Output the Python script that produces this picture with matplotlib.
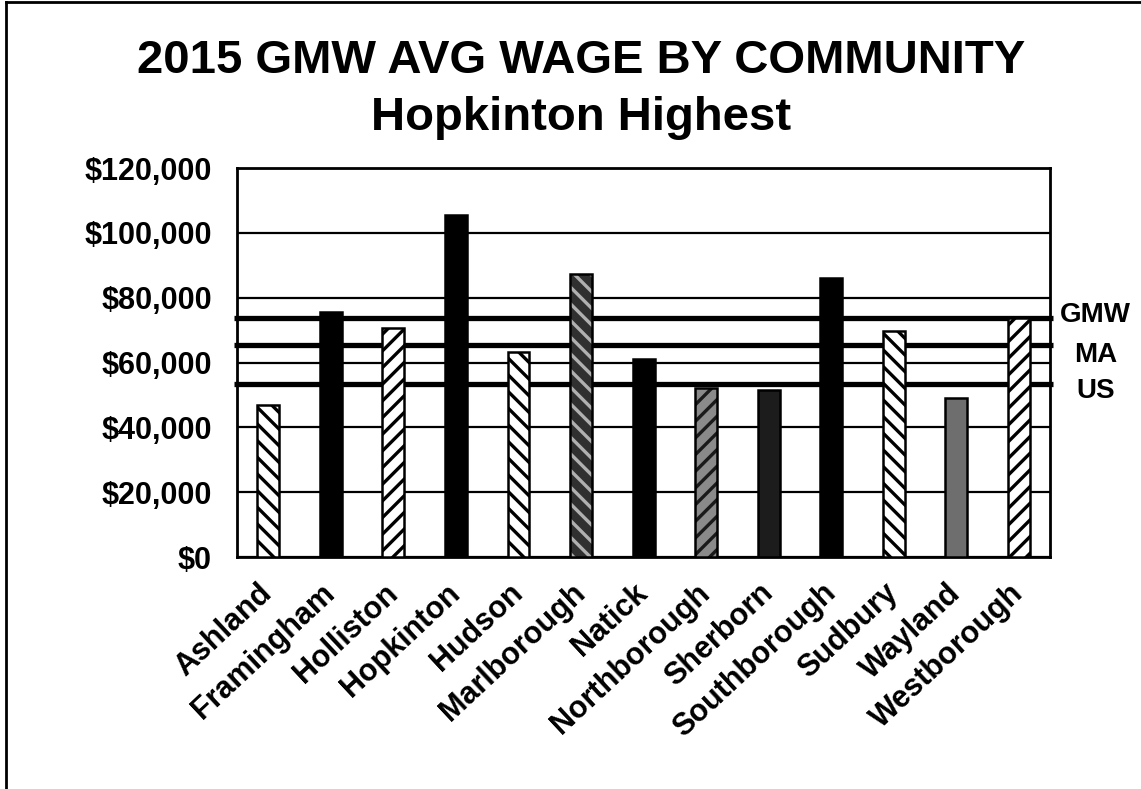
import matplotlib.pyplot as plt
import numpy as np

plt.rcParams['font.family'] = ['Liberation Sans', 'DejaVu Sans']
plt.rcParams['font.weight'] = 'bold'
plt.rcParams['hatch.linewidth'] = 2.4

towns = ['Ashland', 'Framingham', 'Holliston', 'Hopkinton', 'Hudson',
         'Marlborough', 'Natick', 'Northborough', 'Sherborn', 'Southborough',
         'Sudbury', 'Wayland', 'Westborough']
wages = [47000, 75500, 70800, 105500, 63400, 87400, 61200, 52300, 51400,
         86200, 69800, 49000, 73800]

ref_names = ['GMW', 'MA', 'US']
ref_wages = [73700, 65300, 53500]

# (face, hatch, hatch colour) per bar
styles = [
    ('white', '\\\\', 'black'),
    ('black', '', 'black'),
    ('white', '//', 'black'),
    ('black', '', 'black'),
    ('white', '\\\\', 'black'),
    ('#303030', '\\\\', '#b0b0b0'),
    ('black', '', 'black'),
    ('#8a8a8a', '//', '#1a1a1a'),
    ('#1c1c1c', '', 'black'),
    ('black', '', 'black'),
    ('white', '\\\\', 'black'),
    ('#6e6e6e', '', '#6e6e6e'),
    ('white', '//', 'black'),
]

fig = plt.figure(figsize=(11.41, 7.89), dpi=100)
ax = fig.add_axes([0.2077, 0.294, 0.7127, 0.493])

x = np.arange(len(towns))
w = 0.35
for i, (face, hatch, hc) in enumerate(styles):
    ax.bar(x[i], wages[i], width=w, color=face, edgecolor='none', zorder=3)
    if hatch:
        ax.bar(x[i], wages[i], width=w, fill=False, hatch=hatch,
               edgecolor=hc, linewidth=0, zorder=4)
    ax.bar(x[i], wages[i], width=w, fill=False, edgecolor='black',
           linewidth=1.8, zorder=5)

yt = np.arange(0, 120001, 20000)
ax.set_ylim(0, 120000)
ax.set_xlim(-0.5, len(towns) - 0.5)
ax.set_yticks(yt)
ax.set_yticklabels(['${:,.0f}'.format(v) for v in yt],
                   fontsize=22, fontweight='bold')
ax.tick_params(axis='y', length=0, pad=18)
ax.tick_params(axis='x', length=0, pad=23)
ax.set_xticks(x)
ax.set_xticklabels(towns, rotation=43, ha='right', va='center',
                   rotation_mode='anchor', fontsize=22, fontweight='bold')
ax.grid(axis='y', color='black', linewidth=1.6, zorder=1)
ax.set_axisbelow(True)
for s in ax.spines.values():
    s.set_linewidth(2)

# benchmark wage lines, labelled outside the right edge
label_y = [0.601, 0.550, 0.504]
for name, val, ly in zip(ref_names, ref_wages, label_y):
    ax.plot([-0.55, 12.55], [val, val], color='black', linewidth=3.8,
            zorder=2, clip_on=False, solid_capstyle='butt')
    fig.text(0.960, ly, name, fontsize=20, fontweight='bold',
             va='center', ha='center')

fig.text(0.509, 0.9075, '2015 GMW AVG WAGE BY COMMUNITY', ha='center',
         va='baseline', fontsize=34, fontweight='bold')
fig.text(0.509, 0.835, 'Hopkinton Highest', ha='center', va='baseline',
         fontsize=34, fontweight='bold')

# page frame
fig.add_artist(plt.Line2D([0.005, 0.005], [0.0, 0.997], color='black',
                          linewidth=2, transform=fig.transFigure))
fig.add_artist(plt.Line2D([0.005, 0.999], [0.997, 0.997], color='black',
                          linewidth=2, transform=fig.transFigure))

fig.savefig('out.png', dpi=100)
